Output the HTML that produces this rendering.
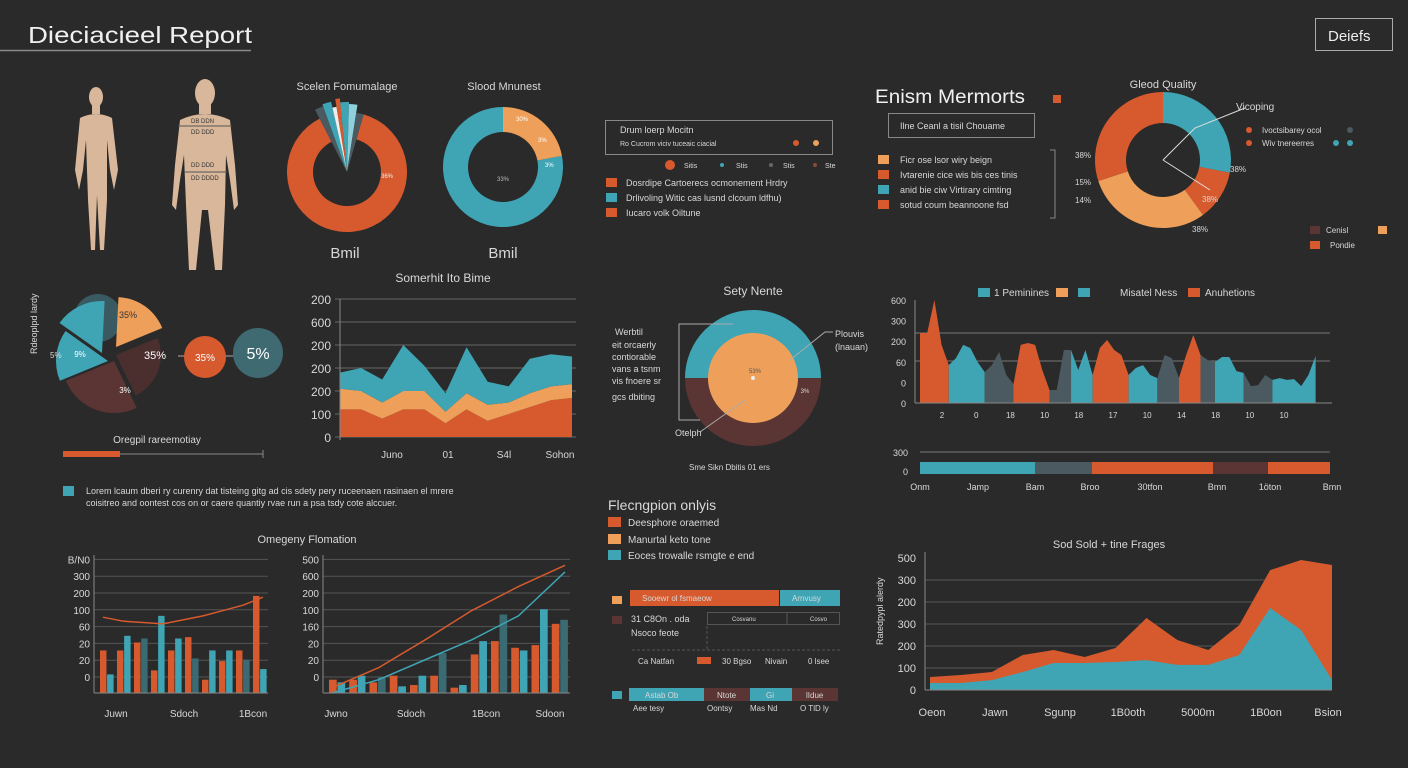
<!DOCTYPE html>
<html><head><meta charset="utf-8"><title>Dieciacieel Report</title>
<style>
html,body{margin:0;padding:0;background:#2a2a2a;}
svg{display:block;font-family:"Liberation Sans",sans-serif;}
text{fill:#d8d8d8;}
</style></head>
<body>
<svg id="s" width="1408" height="768" viewBox="0 0 1408 768" xmlns="http://www.w3.org/2000/svg">
<rect width="1408" height="768" fill="#2a2a2a"/>
<text x="28" y="43" font-size="23" textLength="224" lengthAdjust="spacingAndGlyphs" style="fill:#f0f0f0">Dieciacieel Report</text>
<line x1="0" y1="50.5" x2="251" y2="50.5" stroke="#888" stroke-width="1.5"/>
<g>
<rect x="1315.5" y="18.5" width="77" height="32" fill="none" stroke="#aaa"/>
<text x="1328" y="41" font-size="15" style="fill:#eee">Deiefs</text>
</g>
<g fill="#d9b79a">
<ellipse cx="96" cy="97" rx="7" ry="10"/>
<rect x="92" y="104" width="8" height="10"/>
<path d="M80 118 Q96 110 112 118 L118 170 L114 190 L110 170 L107 140 L107 200 L104 250 L100 250 L97 195 L95 250 L91 250 L88 200 L86 140 L83 170 L79 190 L75 170 Z"/>
</g>
<g fill="#d9b79a">
<ellipse cx="205" cy="93" rx="10" ry="14"/>
<rect x="199" y="104" width="12" height="10"/>
<path d="M180 120 Q205 108 230 120 L235 165 L238 205 L234 210 L230 180 L226 155 L225 205 L222 270 L215 270 L208 210 L202 210 L196 270 L189 270 L186 205 L184 155 L180 180 L176 210 L172 205 L175 165 Z"/>
<line x1="178" y1="126" x2="232" y2="126" stroke="#555" stroke-width="1"/>
<line x1="184" y1="172" x2="227" y2="172" stroke="#555" stroke-width="1"/>
</g>
<g font-size="6">
<text x="191" y="123" style="fill:#333">DB DDN</text>
<text x="191" y="134" style="fill:#333">DD DDD</text>
<text x="191" y="167" style="fill:#333">DD DDD</text>
<text x="191" y="180" style="fill:#333">DD DDDD</text>
</g>
<g id="charts"></g>
<g font-size="10">
<text x="347" y="90" text-anchor="middle" font-size="11">Scelen Fomumalage</text>
<text x="504" y="90" text-anchor="middle" font-size="11">Slood Mnunest</text>
<text x="345" y="258" text-anchor="middle" font-size="15">Bmil</text>
<text x="503" y="258" text-anchor="middle" font-size="15">Bmil</text>
<text x="443" y="282" text-anchor="middle" font-size="12">Somerhit Ito Bime</text>
<text x="753" y="295" text-anchor="middle" font-size="12">Sety Nente</text>
<text x="875" y="103" font-size="19" textLength="150" lengthAdjust="spacingAndGlyphs" style="fill:#f0f0f0">Enism Mermorts</text>
<text x="1163" y="88" text-anchor="middle" font-size="11">Gleod Quality</text>
<text x="1236" y="110" font-size="10">Vicoping</text>
<text x="1109" y="548" text-anchor="middle" font-size="11">Sod Sold + tine Frages</text>
<text x="307" y="543" text-anchor="middle" font-size="11">Omegeny Flomation</text>
<text x="608" y="510" font-size="14">Flecngpion onlyis</text>
<text x="157" y="443" text-anchor="middle" font-size="10">Oregpil rareemotiay</text>
<text x="43" y="360" font-size="9" transform="rotate(-90 37 360)">Rdeoplpd lardy</text>
<text x="883" y="645" font-size="9" transform="rotate(-90 883 645)">Ratedpypl alerdy</text>
<text x="615" y="335" font-size="9">Werbtil</text>
<text x="612" y="348" font-size="9">eit orcaerly</text>
<text x="612" y="360" font-size="9">contiorable</text>
<text x="612" y="372" font-size="9">vans a tsnm</text>
<text x="612" y="384" font-size="9">vis fnoere sr</text>
<text x="612" y="400" font-size="9">gcs dbiting</text>
<text x="675" y="436" font-size="9">Otelph</text>
<text x="835" y="337" font-size="9">Plouvis</text>
<text x="835" y="350" font-size="9">(lnauan)</text>
<text x="689" y="470" font-size="8">Sme  Sikn  Dbitis   01  ers</text>
<text x="994" y="296" font-size="10">1  Peminines</text>
<text x="1120" y="296" font-size="10">Misatel Ness</text>
<text x="1205" y="296" font-size="10">Anuhetions</text>
</g>
<g font-size="9">
<rect x="605.5" y="120.5" width="227" height="34" fill="none" stroke="#888"/>
<text x="620" y="133">Drum loerp Mocitn</text>
<text x="620" y="146" font-size="7">Ro    Cucrom  viciv  tuceaic ciacial</text>
<circle cx="796" cy="143" r="3" fill="#d65a2e"/><circle cx="816" cy="143" r="3" fill="#eea05a"/>
<circle cx="670" cy="165" r="5" fill="#d65a2e"/><text x="684" y="168" font-size="7">Sitis</text>
<circle cx="722" cy="165" r="2" fill="#3fa5b5"/><text x="736" y="168" font-size="7">Stis</text>
<circle cx="771" cy="165" r="2" fill="#666"/><text x="783" y="168" font-size="7">Stis</text>
<circle cx="815" cy="165" r="2" fill="#8a4a3a"/><text x="825" y="168" font-size="7">Ste</text>
<rect x="606" y="178" width="11" height="9" fill="#d65a2e"/><text x="626" y="186">Dosrdipe Cartoerecs ocmonement Hrdry</text>
<rect x="606" y="193" width="11" height="9" fill="#3fa5b5"/><text x="626" y="201">Drlivoling  Witic  cas  lusnd  clcoum  ldfhu)</text>
<rect x="606" y="208" width="11" height="9" fill="#d65a2e"/><text x="626" y="216">Iucaro volk Oiltune</text>
</g>
<g font-size="9">
<rect x="1053" y="95" width="8" height="8" fill="#d65a2e"/>
<rect x="888.5" y="113.5" width="146" height="24" fill="none" stroke="#888"/>
<text x="900" y="129">Ilne Ceanl a tisil Chouame</text>
<rect x="878" y="155" width="11" height="9" fill="#eea05a"/><text x="900" y="163">Ficr ose lsor wiry beign</text>
<rect x="878" y="170" width="11" height="9" fill="#d65a2e"/><text x="900" y="178">Ivtarenie cice wis bis ces tinis</text>
<rect x="878" y="185" width="11" height="9" fill="#3fa5b5"/><text x="900" y="193">anid bie ciw Virtirary cimting</text>
<rect x="878" y="200" width="11" height="9" fill="#d65a2e"/><text x="900" y="208">sotud coum beannoone fsd</text>
<path d="M1050 150 L1055 150 L1055 218 L1050 218" fill="none" stroke="#888"/>
</g>
<g font-size="8">
<circle cx="1249" cy="130" r="3" fill="#d65a2e"/><text x="1262" y="133">Ivoctsibarey ocol</text><circle cx="1350" cy="130" r="3" fill="#4a5a60"/>
<circle cx="1249" cy="143" r="3" fill="#d65a2e"/><text x="1262" y="146">Wiv tnereerres</text><circle cx="1336" cy="143" r="3" fill="#3fa5b5"/><circle cx="1350" cy="143" r="3" fill="#3fa5b5"/>
<rect x="1310" y="226" width="10" height="8" fill="#5a3533"/><text x="1326" y="233">Cenisl</text><rect x="1378" y="226" width="9" height="8" fill="#eea05a"/>
<rect x="1310" y="241" width="10" height="8" fill="#d65a2e"/><text x="1330" y="248">Pondie</text>
<text x="1075" y="158">38%</text><text x="1075" y="185">15%</text><text x="1075" y="203">14%</text>
<text x="1230" y="172">38%</text><text x="1202" y="202">38%</text><text x="1192" y="232">38%</text>
</g>
<g font-size="9">
<rect x="63" y="486" width="11" height="10" fill="#3fa5b5"/>
<text x="86" y="494">Lorem lcaum  dberi  ry  curenry  dat  tisteing  gitg  ad  cis  sdety  pery  ruceenaen  rasinaen  el  mrere</text>
<text x="86" y="506">coisitreo  and  oontest  cos  on or  caere  quantiy  rvae  run  a  psa  tsdy  cote  alccuer.</text>
</g>
<g font-size="10">
<rect x="608" y="517" width="13" height="10" fill="#d65a2e"/><text x="628" y="526">Deesphore oraemed</text>
<rect x="608" y="534" width="13" height="10" fill="#eea05a"/><text x="628" y="543">Manurtal keto tone</text>
<rect x="608" y="550" width="13" height="10" fill="#3fa5b5"/><text x="628" y="559">Eoces trowalle rsmgte e end</text>
</g>
<g font-size="8">
<rect x="612" y="596" width="10" height="8" fill="#eea05a"/>
<rect x="630" y="590" width="149" height="16" fill="#d65a2e"/><text x="642" y="601">Sooewr ol fsmaeow</text>
<rect x="780" y="590" width="60" height="16" fill="#3fa5b5"/><text x="792" y="601">Arnvusy</text>
<rect x="612" y="616" width="10" height="8" fill="#5a3533"/>
<text x="631" y="622" font-size="9">31 C8On  .  oda</text><text x="631" y="636" font-size="9">Nsoco feote</text>
<rect x="707.5" y="612.5" width="132" height="12" fill="none" stroke="#555"/><line x1="787" y1="612" x2="787" y2="625" stroke="#555"/>
<text x="732" y="621" font-size="6">Cosvanu</text><text x="810" y="621" font-size="6">Cosvo</text>
<line x1="632" y1="650" x2="840" y2="650" stroke="#555" stroke-dasharray="3,2"/>
<line x1="707" y1="626" x2="707" y2="650" stroke="#555" stroke-dasharray="3,2"/>
<text x="638" y="664">Ca  Natfan</text><rect x="697" y="657" width="14" height="7" fill="#d65a2e"/><text x="722" y="664">30 Bgso</text><text x="765" y="664">Nivain</text><text x="808" y="664">0  lsee</text>
<rect x="612" y="691" width="10" height="8" fill="#3fa5b5"/>
<rect x="629" y="688" width="75" height="13" fill="#3fa5b5"/><text x="645" y="698">Astab Ob</text>
<rect x="704" y="688" width="46" height="13" fill="#5a3533"/><text x="717" y="698">Ntote</text>
<rect x="750" y="688" width="42" height="13" fill="#3fa5b5"/><text x="766" y="698">Gi</text>
<rect x="792" y="688" width="46" height="13" fill="#5a3533"/><text x="806" y="698">lIdue</text>
<text x="633" y="711">Aee tesy</text><text x="707" y="711">Oontsy</text><text x="750" y="711">Mas Nd</text><text x="800" y="711">O TlD ly</text>
</g>
</svg>
<script>
const donut1Values=[88,2,2,1,1,2,2,2];
const donut2Values=[78,22];
const donut3Values=[28,12,30,30];
const clusterValues=[18,24,26,16,16];
const areaCats=["a","b","c","d","e","f","g","h","i","j","k","l"];
const areaLow=[120,120,80,120,120,60,120,70,100,130,160,170];
const areaMid=[90,80,70,80,80,50,70,70,50,60,60,60];
const areaTop=[70,100,100,200,110,80,200,100,70,150,140,120];
const areaTicks=["0","100","200","200","200","600","200"];
const areaXLabels=["Juno","01","S4l","Sohon"];
const segLengths=[5,5,4,5,3,3,5,4,3,3,2,4,4,6];
const segColors=["#d65a2e","#3fa5b5","#4a5a60","#d65a2e","#4a5a60","#3fa5b5","#d65a2e","#3fa5b5","#4a5a60","#d65a2e","#4a5a60","#3fa5b5","#4a5a60","#3fa5b5"];
const segValues=[340,340,500,282,184,218,282,267,199,150,184,248,136,92,282,291,282,160,63,63,257,257,160,257,136,267,306,257,233,136,170,184,136,121,233,218,121,233,330,233,209,199,223,223,155,146,82,87,136,112,121,112,116,82,136,228,325,325];
const segTicks=["0","0","60","200","300","600"];
const segXLabels=["2","0","18","10","18","17","10","14","18","10","10"];
const stripValues=[115,57,121,55,62];
const stripColors=["#3fa5b5","#4a5a60","#d65a2e","#5a3533","#d65a2e"];
const stripXLabels=["Onm","Jamp","Bam","Broo","30tfon","Bmn","1\u00f6ton","Bmn"];
const bar1Orange=[32,32,38,17,32,42,10,24,32,73];
const bar1Teal=[14,43,41,58,41,26,32,32,25,18];
const bar1Line=[57,54,53,52,55,58,62,66,72];
const bar1Ticks=["0","20","20","60","100","200","300","B/N0"];
const bar1XLabels=["Juwn","Sdoch","1Bcon"];
const bar2Orange=[10,10,8,13,6,13,4,29,39,34,36,52];
const bar2Teal=[8,13,12,5,13,30,6,39,59,32,63,55];
const bar2LineA=[4,19,40,62,80,96];
const bar2LineB=[0,10,25,40,58,91];
const bar2Ticks=["0","20","20","160","100","200","600","500"];
const bar2XLabels=["Jwno","Sdoch","1Bcon","Sdoon"];
const bottomOrange=[59,68,82,159,182,150,191,327,227,182,295,545,591,568];
const bottomTeal=[32,32,45,82,123,123,127,136,114,114,159,373,273,45];
const bottomTicks=["0","100","200","300","200","300","500"];
const bottomXLabels=["Oeon","Jawn","Sgunp","1B0oth","5000m","1B0on","Bsion"];

const NS="http://www.w3.org/2000/svg";
const root=document.getElementById('charts');
function mk(tag,attrs,parent){const e=document.createElementNS(NS,tag);for(const k in attrs)e.setAttribute(k,attrs[k]);(parent||root).appendChild(e);return e;}
function grp(name){const g=mk('g',{});


return g;}
function arcPath(cx,cy,r0,r1,a0,a1){const p=a=>[Math.sin(a),-Math.cos(a)];const [s0,c0]=p(a0),[s1,c1]=p(a1);const lg=(a1-a0)>Math.PI?1:0;
if(r0<=0)return `M${cx} ${cy} L${cx+r1*s0} ${cy+r1*c0} A${r1} ${r1} 0 ${lg} 1 ${cx+r1*s1} ${cy+r1*c1} Z`;
return `M${cx+r1*s0} ${cy+r1*c0} A${r1} ${r1} 0 ${lg} 1 ${cx+r1*s1} ${cy+r1*c1} L${cx+r0*s1} ${cy+r0*c1} A${r0} ${r0} 0 ${lg} 0 ${cx+r0*s0} ${cy+r0*c0} Z`;}
function pie(g,vals,cols,cx,cy,r0,r1,start,name,radii,inner){const tot=vals.reduce((a,b)=>a+b,0);let a=start;vals.forEach((v,i)=>{const a1=a+v/tot*2*Math.PI;const p=mk('path',{d:arcPath(cx,cy,inner?inner[i]:r0,radii?radii[i]:r1,a,a1),fill:cols[i]},g);


a=a1;});}
function txt(g,x,y,s,size,anchor,fill){const t=mk('text',{x:x,y:y,'font-size':size||9,'text-anchor':anchor||'start'},g);if(fill)t.style.fill=fill;t.textContent=s;return t;}

{const g=grp('donut-formulage');
pie(g,donut1Values,["#d65a2e","#4a5a60","#3fa5b5","#eeeeee","#d65a2e","#3fa5b5","#8fd0dc","#4a5a60"],347,172,34,60,0.28,'donut1',[60,70,72,66,74,70,68,60],[34,0,0,0,0,0,0,0]);
txt(g,387,178,"36%",6,'middle','#eee');}
{const g=grp('donut-blood');
pie(g,donut2Values,["#3fa5b5","#eea05a"],503,167,35,60,Math.PI*2*0.22,'donut2');
txt(g,516,121,"30%",6,'start','#fff');txt(g,538,142,"3%",6,'start','#fff');txt(g,545,167,"3%",6,'start','#fff');txt(g,503,181,"33%",6,'middle','#bbb');}
{const g=grp('donut-quality');
pie(g,donut3Values,["#3fa5b5","#d65a2e","#eea05a","#d65a2e"],1163,160,37,68,0,'donut3');
mk('path',{d:"M1163 160 L1195 128 L1245 108",fill:"none",stroke:"#ddd","stroke-width":1},g);
mk('path',{d:"M1163 160 L1210 190",fill:"none",stroke:"#ddd","stroke-width":1},g);}
{const g=grp('cluster-pie');
mk('circle',{cx:98,cy:318,r:24,fill:"#3a5a62"},g);
const cols=["#eea05a","#4a2f2e","#5a3533","#3fa5b5","#3fa5b5"];
const offs=[[6,-8],[6,0],[4,6],[-2,6],[-8,-2]];
const tot=clusterValues.reduce((a,b)=>a+b,0);let a=0.05;
clusterValues.forEach((v,i)=>{const a1=a+v/tot*2*Math.PI;const p=mk('path',{d:arcPath(110+offs[i][0],355+offs[i][1],0,[50,45,52,52,52][i],a,a1),fill:cols[i]},g);


a=a1;});
txt(g,128,318,"35%",9,'middle','#333');txt(g,80,357,"9%",8,'middle','#fff');txt(g,155,359,"35%",11,'middle','#fff');txt(g,125,393,"3%",8,'middle','#fff');txt(g,50,358,"5%",8,'start');
mk('line',{x1:178,y1:356,x2:236,y2:356,stroke:"#aaa"},g);
mk('circle',{cx:205,cy:357,r:21,fill:"#d65a2e"},g);txt(g,205,361,"35%",10,'middle','#fff');
mk('circle',{cx:258,cy:353,r:25,fill:"#3f6a72"},g);txt(g,258,359,"5%",16,'middle','#fff');
mk('rect',{x:63,y:451,width:57,height:6,fill:"#d65a2e"},g);mk('line',{x1:120,y1:454,x2:263,y2:454,stroke:"#888"},g);mk('line',{x1:263,y1:450,x2:263,y2:458,stroke:"#888"},g);}
{const g=grp('stacked-area-chart');
const x0=340,x1=572,yb=437,yt=299,maxV=600;
const X=i=>x0+i*(x1-x0)/(areaCats.length-1),Y=v=>yb-v/maxV*(yb-yt);
areaTicks.forEach((t,i)=>{const y=Y(i*100);mk('line',{x1:x0-5,y1:y,x2:x1+4,y2:y,stroke:"#666"},g);txt(g,331,y+5,t,12,'end');});
const layers=[areaLow,areaMid,areaTop],cols=["#d65a2e","#eea05a","#3fa5b5"];
const cum=areaCats.map(()=>0);
layers.forEach((L,k)=>{const lower=cum.slice();L.forEach((v,i)=>cum[i]+=v);
let d="M"+areaCats.map((c,i)=>X(i)+" "+Y(cum[i])).join(" L")+" L"+areaCats.map((c,i)=>X(areaCats.length-1-i)+" "+Y(lower[areaCats.length-1-i])).join(" L")+"Z";
const p=mk('path',{d:d,fill:cols[k]},g);

});
mk('line',{x1:x0,y1:yt,x2:x0,y2:yb+3,stroke:"#888"},g);
areaXLabels.forEach((s,i)=>txt(g,392+i*56,458,s,10,'middle'));}
{const g=grp('sety-nente-pie');
mk('path',{d:arcPath(753,378,0,68,-Math.PI/2,Math.PI/2),fill:"#3fa5b5"},g);
mk('path',{d:arcPath(753,378,0,68,Math.PI/2,Math.PI*1.5),fill:"#5a3533"},g);
mk('circle',{cx:753,cy:378,r:45,fill:"#eea05a"},g);
mk('circle',{cx:753,cy:378,r:2,fill:"#eee"},g);
txt(g,755,373,"53%",6,'middle','#555');txt(g,805,393,"3%",6,'middle','#ddd');
mk('path',{d:"M733 324 L679 324 L679 420 L700 420",fill:"none",stroke:"#aaa"},g);
mk('path',{d:"M790 360 L825 332 L833 332",fill:"none",stroke:"#aaa"},g);
mk('path',{d:"M745 400 L700 432",fill:"none",stroke:"#aaa"},g);}
{const g=grp('segmented-area-chart');
const x0=920,x1=1330,yb=403,yt=300,maxV=500,n=segValues.length;
const X=i=>x0+i*(x1-x0)/(n-1),Y=v=>yb-v/maxV*(yb-yt);
segTicks.forEach((t,i)=>txt(g,906,Y(i*100)+4,t,9,'end'));
mk('line',{x1:x0-5,y1:333,x2:x1,y2:333,stroke:"#777"},g);mk('line',{x1:x0-5,y1:361,x2:x1,y2:361,stroke:"#777"},g);
let st=0;segLengths.forEach((len,k)=>{const idx=[];for(let i=Math.max(st-1,0);i<st+len&&i<n;i++)idx.push(i);
let d="M"+X(idx[0])+" "+yb+" "+idx.map(i=>"L"+X(i)+" "+Y(segValues[i])).join(" ")+" L"+X(idx[idx.length-1])+" "+yb+"Z";
const p=mk('path',{d:d,fill:segColors[k]},g);


st+=len;});
mk('line',{x1:x0-5,y1:yb,x2:x1+2,y2:yb,stroke:"#888"},g);mk('line',{x1:x0-5,y1:yt,x2:x0-5,y2:yb,stroke:"#888"},g);
segXLabels.forEach((s,i)=>txt(g,942+i*34.2,418,s,8,'middle'));
[[978,"#3fa5b5"],[1056,"#eea05a"],[1078,"#3fa5b5"],[1188,"#d65a2e"]].forEach(c=>mk('rect',{x:c[0],y:288,width:12,height:9,fill:c[1]},g));}
{const g=grp('strip-bar');
const x0=920,x1=1330,tot=stripValues.reduce((a,b)=>a+b,0);let x=x0;
mk('line',{x1:x0,y1:452,x2:x1,y2:452,stroke:"#777"},g);
txt(g,908,456,"300",9,'end');txt(g,908,475,"0",9,'end');
stripValues.forEach((v,i)=>{const w=v/tot*(x1-x0);const r=mk('rect',{x:x,y:462,width:w,height:12,fill:stripColors[i]},g);


x+=w;});
stripXLabels.forEach((s,i)=>txt(g,[920,978,1035,1090,1150,1217,1270,1332][i],490,s,9,'middle'));}
function barChart(name,x0,x1,o,t,lines,lineCols,ticks,xl,xlx){const g=grp(name);
const yb=693,Y=v=>yb-v*1.33,n=o.length,gw=(x1-x0)/n;
ticks.forEach((tk,i)=>{const y=yb-16-i*16.8;mk('line',{x1:x0-4,y1:y,x2:x1,y2:y,stroke:"#555"},g);txt(g,x0-8,y+4,tk,10,'end');});
o.forEach((v,i)=>{const r=mk('rect',{x:x0+i*gw+2,y:Y(v),width:gw*0.38,height:v*1.33,fill:"#d65a2e"},g);

});
t.forEach((v,i)=>{const r=mk('rect',{x:x0+i*gw+2+gw*0.42,y:Y(v),width:gw*0.38,height:v*1.33,fill:i%3==2?"#3a6a72":"#3fa5b5"},g);

});
lines.forEach((L,k)=>{const pts=L.map((v,i)=>(x0+5+i*(x1-x0-10)/(L.length-1))+","+Y(v)).join(" ");const p=mk('polyline',{points:pts,fill:"none",stroke:lineCols[k],"stroke-width":1.5},g);

});
mk('line',{x1:x0-4,y1:yb,x2:x1,y2:yb,stroke:"#888"},g);mk('line',{x1:x0-4,y1:555,x2:x0-4,y2:yb,stroke:"#888"},g);
xl.forEach((s,i)=>txt(g,xlx[i],717,s,10,'middle'));}
barChart('bar-chart-omegeny',98,268,bar1Orange,bar1Teal,[bar1Line],["#d65a2e"],bar1Ticks,bar1XLabels,[116,184,253]);
barChart('bar-chart-growth',327,570,bar2Orange,bar2Teal,[bar2LineA,bar2LineB],["#d65a2e","#3fa5b5"],bar2Ticks,bar2XLabels,[336,411,486,550]);
{const g=grp('bottom-area-chart');
const x0=930,x1=1332,yb=690,n=bottomOrange.length,X=i=>x0+i*(x1-x0)/(n-1),Y=v=>yb-v*0.22;
bottomTicks.forEach((t,i)=>txt(g,916,Y(i*100)+4,t,11,'end'));
[1,2,3,4,5].forEach(i=>mk('line',{x1:x0-5,y1:Y(i*100),x2:x1,y2:Y(i*100),stroke:"#555"},g));
[[bottomOrange,"#d65a2e"],[bottomTeal,"#3fa5b5"]].forEach((s,k)=>{const d="M"+x0+" "+yb+" "+s[0].map((v,i)=>"L"+X(i)+" "+Y(v)).join(" ")+" L"+x1+" "+yb+"Z";
const p=mk('path',{d:d,fill:s[1]},g);

});
mk('line',{x1:x0-5,y1:yb,x2:x1,y2:yb,stroke:"#888"},g);mk('line',{x1:x0-5,y1:552,x2:x0-5,y2:yb,stroke:"#888"},g);
bottomXLabels.forEach((s,i)=>txt(g,[932,995,1060,1128,1198,1266,1328][i],716,s,11,'middle'));}
</script>
</body></html>
